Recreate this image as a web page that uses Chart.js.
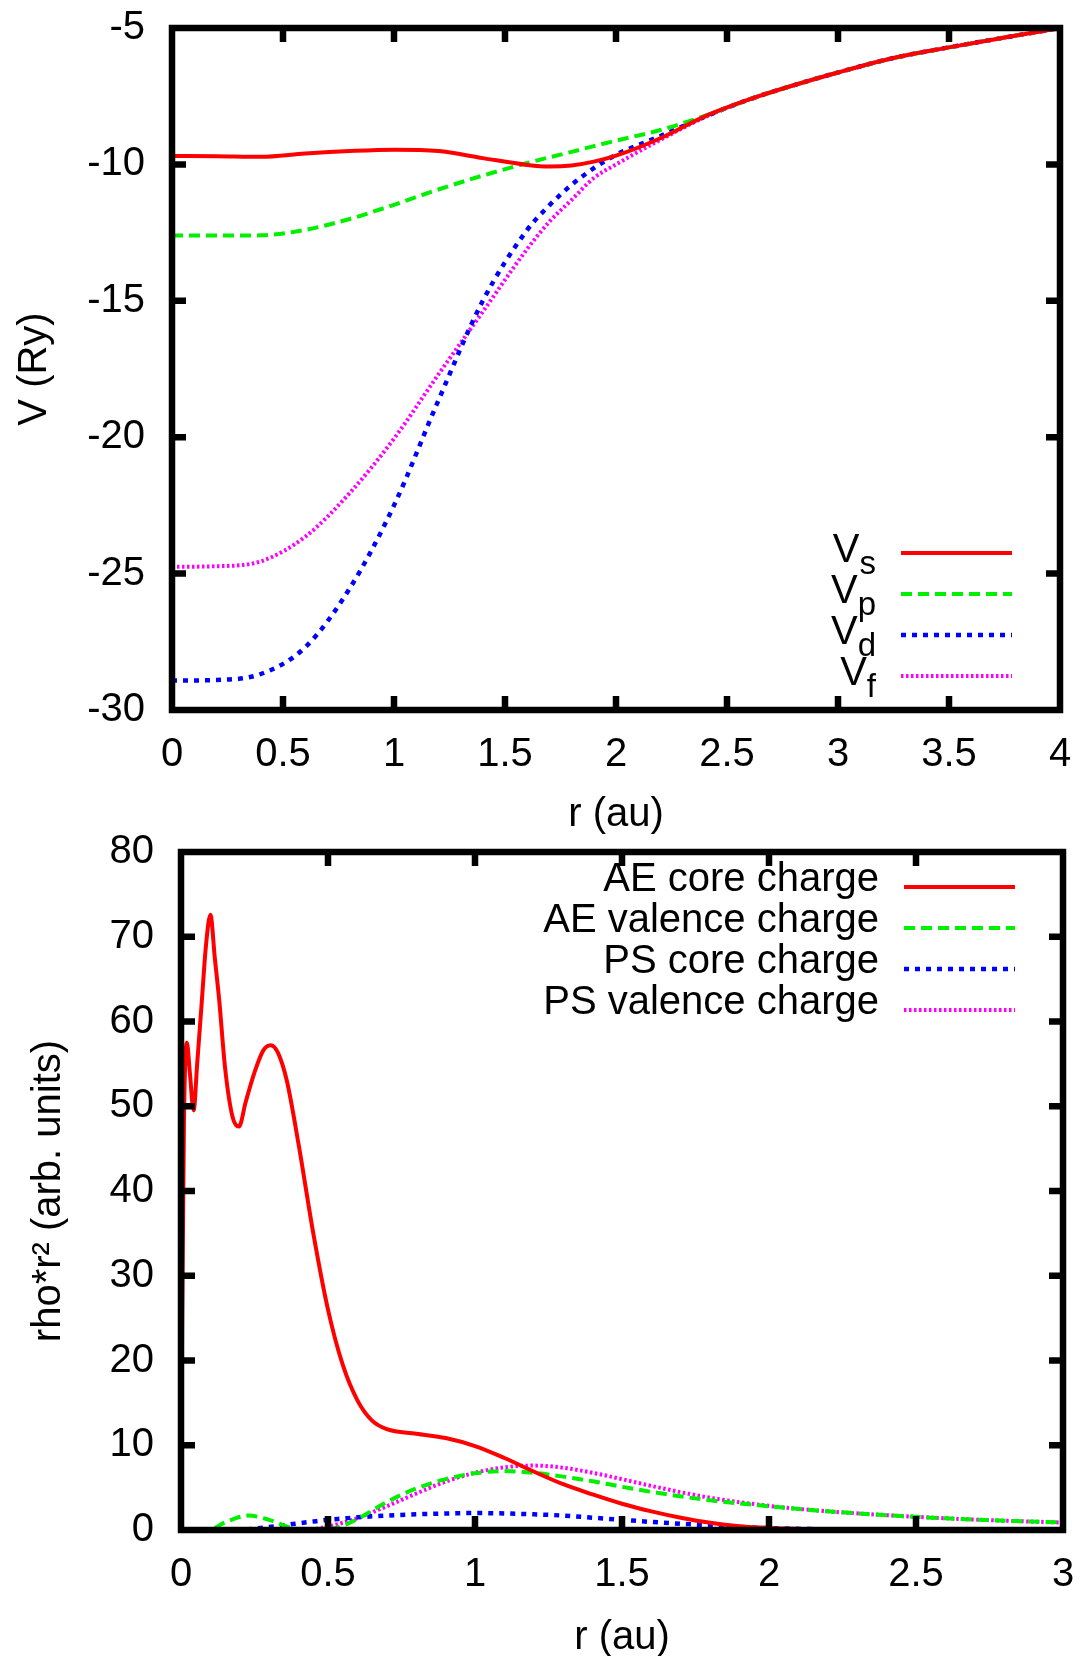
<!DOCTYPE html>
<html lang="en">
<head>
    <meta charset="UTF-8">
    <title>Potentials and charge densities</title>
    <script src="https://cdn.jsdelivr.net/npm/chart.js"></script>
    <style>
        body { margin: 0; background: #fff; overflow: hidden; }
        .box { position: absolute; left: 0; width: 1084px; }
    </style>
</head>
<body>
    <div class="box" style="top:0; height:850px;"><canvas id="potChart"></canvas></div>
    <div class="box" style="top:800px; height:856px;"><canvas id="rhoChart"></canvas></div>

    <script>
        // upper panel: V(r) per channel
        var rPot = [0, 0.2, 0.4, 0.6, 0.8, 1.0, 1.2, 1.4, 1.6, 1.7, 1.8, 1.9, 2.0, 2.2, 2.4, 2.6, 2.8, 3.0, 3.25, 3.5, 3.75, 4.0];
        var vS = [-9.69, -9.70, -9.72, -9.60, -9.51, -9.46, -9.51, -9.77, -10.02, -10.08, -10.04, -9.90, -9.68, -9.04, -8.24, -7.62, -7.10, -6.63, -6.10, -5.71, -5.35, -5.00];
        var vP = [-12.61, -12.61, -12.60, -12.40, -12.00, -11.48, -10.92, -10.41, -9.95, -9.74, -9.54, -9.33, -9.13, -8.74, -8.22, -7.62, -7.10, -6.63, -6.10, -5.71, -5.35, -5.00];
        var vD = [-28.92, -28.90, -28.68, -27.70, -25.55, -22.50, -18.65, -15.00, -12.40, -11.50, -10.75, -10.14, -9.65, -8.96, -8.25, -7.62, -7.10, -6.63, -6.10, -5.71, -5.35, -5.00];
        var vF = [-24.75, -24.73, -24.55, -23.65, -22.05, -20.05, -17.70, -15.40, -13.10, -12.10, -11.30, -10.50, -10.00, -9.10, -8.27, -7.62, -7.10, -6.63, -6.10, -5.71, -5.35, -5.00];
        var potKeys = [['V', 's'], ['V', 'p'], ['V', 'd'], ['V', 'f']];

        // lower panel: rho*r^2
        var rCore = [0, 0.004, 0.01, 0.02, 0.03, 0.043, 0.055, 0.07, 0.085, 0.1, 0.115, 0.13, 0.15, 0.175, 0.197, 0.22, 0.25, 0.28, 0.305, 0.33, 0.36, 0.4, 0.45, 0.5, 0.55, 0.6, 0.65, 0.7, 0.8, 0.9, 1.0, 1.1, 1.2, 1.3, 1.4, 1.5, 1.6, 1.7, 1.8, 1.9, 2.0, 2.2, 2.4, 2.6, 3.0];
        var aeCore = [0, 25, 48, 57.5, 54, 49.5, 55, 62, 69, 72.6, 67.5, 62.5, 54.5, 48.8, 47.6, 50.5, 54, 56.6, 57.2, 56.3, 53, 45.5, 35, 26, 19.5, 15.3, 12.9, 11.9, 11.35, 10.85, 9.9, 8.5, 6.9, 5.4, 4.2, 3.1, 2.2, 1.45, 0.85, 0.45, 0.25, 0.08, 0.03, 0.01, 0];
        var rCharge = [0, 0.1, 0.15, 0.23, 0.3, 0.38, 0.45, 0.5, 0.55, 0.6, 0.7, 0.8, 0.9, 1.0, 1.1, 1.2, 1.3, 1.4, 1.5, 1.6, 1.8, 2.0, 2.2, 2.4, 2.6, 2.8, 3.0];
        var aeVal = [0, 0.1, 0.9, 1.7, 1.2, 0.2, 0, 0.05, 0.5, 1.3, 3.3, 4.9, 6.0, 6.7, 6.95, 6.75, 6.3, 5.75, 5.1, 4.5, 3.5, 2.8, 2.2, 1.75, 1.38, 1.1, 0.88];
        var psVal = [0, 0, 0, 0, 0, 0, 0.1, 0.4, 0.85, 1.4, 2.8, 4.3, 5.7, 6.75, 7.4, 7.6, 7.35, 6.75, 6.0, 5.2, 3.8, 2.85, 2.2, 1.75, 1.38, 1.1, 0.88];
        var psCore = [0, 0, 0, 0.1, 0.35, 0.7, 1.0, 1.2, 1.35, 1.5, 1.7, 1.85, 1.95, 2.0, 1.95, 1.85, 1.7, 1.45, 1.2, 0.95, 0.55, 0.22, 0.08, 0.03, 0.01, 0, 0];
        var rhoKeys = [['AE core charge', ''], ['AE valence charge', ''], ['PS core charge', ''], ['PS valence charge', '']];

        var FONT = '"Liberation Sans", Arial, sans-serif';
        Chart.defaults.font.family = FONT;
        Chart.defaults.color = '#000';

        function pts(xs, ys) {
            return xs.map(function(x, i) { return {x: x, y: ys[i]}; });
        }

        // gnuplot-ish styles: solid red, dashed green, dotted blue, fine dotted magenta
        var styles = [
            {borderColor: '#ff0000', borderWidth: 4, borderDash: []},
            {borderColor: '#00f000', borderWidth: 4, borderDash: [11, 6]},
            {borderColor: '#0000ff', borderWidth: 4.5, borderDash: [5, 6]},
            {borderColor: '#ff00ff', borderWidth: 4, borderDash: [2.5, 2.5]}
        ];

        function line(label, data, i) {
            var s = styles[i];
            return {
                label: label,
                data: data,
                borderColor: s.borderColor,
                borderWidth: s.borderWidth,
                borderDash: s.borderDash,
                pointRadius: 0,
                fill: false,
                cubicInterpolationMode: 'monotone'
            };
        }

        // closed border with inward ticks on all four sides
        var framePlugin = {
            id: 'frame',
            afterDatasetsDraw: function(chart) {
                var a = chart.chartArea, ctx = chart.ctx;
                var xs = chart.scales.x, ys = chart.scales.y;
                var len = 14;
                ctx.save();
                ctx.setLineDash([]);
                ctx.strokeStyle = '#000';
                ctx.lineWidth = 6.5;
                ctx.beginPath();
                xs.ticks.forEach(function(t) {
                    var px = xs.getPixelForValue(t.value);
                    if (px < a.left + 2 || px > a.right - 2) return;
                    ctx.moveTo(px, a.bottom); ctx.lineTo(px, a.bottom - len);
                    ctx.moveTo(px, a.top); ctx.lineTo(px, a.top + len);
                });
                ys.ticks.forEach(function(t) {
                    var py = ys.getPixelForValue(t.value);
                    if (py < a.top + 2 || py > a.bottom - 2) return;
                    ctx.moveTo(a.left, py); ctx.lineTo(a.left + len, py);
                    ctx.moveTo(a.right, py); ctx.lineTo(a.right - len, py);
                });
                ctx.stroke();
                ctx.strokeRect(a.left, a.top, a.right - a.left, a.bottom - a.top);
                ctx.restore();
            }
        };

        // key: right-justified text, then a sample of the line
        var keyPlugin = {
            id: 'gpKey',
            afterDraw: function(chart, args, opts) {
                var a = chart.chartArea, ctx = chart.ctx;
                var y0 = opts.fromBottom ? a.bottom - opts.first : a.top + opts.first;
                ctx.save();
                chart.data.datasets.forEach(function(ds, i) {
                    var y = y0 + i * opts.step;
                    var key = opts.keys[i];
                    ctx.font = '40px ' + FONT;
                    var wm = ctx.measureText(key[0]).width;
                    ctx.font = '33px ' + FONT;
                    var ws = key[1] ? ctx.measureText(key[1]).width : 0;
                    var xr = a.right - 184;
                    ctx.fillStyle = '#000';
                    ctx.textAlign = 'left';
                    ctx.textBaseline = 'alphabetic';
                    ctx.font = '40px ' + FONT;
                    ctx.fillText(key[0], xr - wm - ws, y + opts.base);
                    if (key[1]) {
                        ctx.font = '33px ' + FONT;
                        ctx.fillText(key[1], xr - ws, y + opts.base + 12);
                    }
                    ctx.strokeStyle = ds.borderColor;
                    ctx.lineWidth = ds.borderWidth;
                    ctx.setLineDash(ds.borderDash);
                    ctx.beginPath();
                    ctx.moveTo(a.right - 159, y);
                    ctx.lineTo(a.right - 48, y);
                    ctx.stroke();
                });
                ctx.restore();
            }
        };

        // fixed axis sizes so the plot box lands where it should
        function fixSize(prop, size) {
            return function(s) {
                s[prop] = size;
                s.paddingTop = 0; s.paddingBottom = 0;
                s.paddingLeft = 0; s.paddingRight = 0;
            };
        }

        function options(cfg) {
            return {
                responsive: true,
                maintainAspectRatio: false,
                animation: false,
                events: [],
                layout: { padding: cfg.padding },
                plugins: {
                    legend: { display: false },
                    tooltip: { enabled: false },
                    gpKey: cfg.key
                },
                scales: {
                    x: {
                        type: 'linear',
                        min: cfg.xMin, max: cfg.xMax,
                        grid: { display: false, drawTicks: false },
                        border: { display: false },
                        ticks: { stepSize: 0.5, autoSkip: false, maxRotation: 0, padding: 21,
                                 font: { size: 40 },
                                 callback: function(v) { return String(v); } },
                        title: { display: true, text: 'r (au)', font: { size: 40, lineHeight: 0.9 },
                                 padding: { top: 0, bottom: cfg.xTitlePad } },
                        afterFit: fixSize('height', cfg.xHeight)
                    },
                    y: {
                        min: cfg.yMin, max: cfg.yMax,
                        grid: { display: false, drawTicks: false },
                        border: { display: false },
                        ticks: { stepSize: cfg.yStep, padding: 27, font: { size: 40 },
                                 callback: function(v) { return String(v); } },
                        title: { display: true, text: cfg.yTitle, font: { size: 40, lineHeight: 0.9 },
                                 padding: { top: cfg.yTitlePad, bottom: 0 } },
                        afterFit: fixSize('width', cfg.yWidth)
                    }
                }
            };
        }

        new Chart(document.getElementById('potChart'), {
            type: 'line',
            data: {
                datasets: [
                    line('V_s', pts(rPot, vS), 0),
                    line('V_p', pts(rPot, vP), 1),
                    line('V_d', pts(rPot, vD), 2),
                    line('V_f', pts(rPot, vF), 3)
                ]
            },
            options: options({
                padding: { left: 0, top: 28, right: 24, bottom: 0 },
                xMin: 0, xMax: 4, yMin: -30, yMax: -5, yStep: 5,
                yTitle: 'V (Ry)', yWidth: 172, xHeight: 140,
                xTitlePad: 17, yTitlePad: 17,
                key: { keys: potKeys, fromBottom: true, first: 157, step: 41, base: 9 }
            }),
            plugins: [framePlugin, keyPlugin]
        });

        new Chart(document.getElementById('rhoChart'), {
            type: 'line',
            data: {
                datasets: [
                    line('AE core charge', pts(rCore, aeCore), 0),
                    line('AE valence charge', pts(rCharge, aeVal), 1),
                    line('PS core charge', pts(rCharge, psCore), 2),
                    line('PS valence charge', pts(rCharge, psVal), 3)
                ]
            },
            options: options({
                padding: { left: 0, top: 52, right: 21, bottom: 0 },
                xMin: 0, xMax: 3, yMin: 0, yMax: 80, yStep: 10,
                yTitle: 'rho*r\u00b2 (arb. units)', yWidth: 181, xHeight: 126,
                xTitlePad: 0, yTitlePad: 31,
                key: { keys: rhoKeys, fromBottom: false, first: 35, step: 41, base: 4 }
            }),
            plugins: [framePlugin, keyPlugin]
        });
    </script>
</body>
</html>
